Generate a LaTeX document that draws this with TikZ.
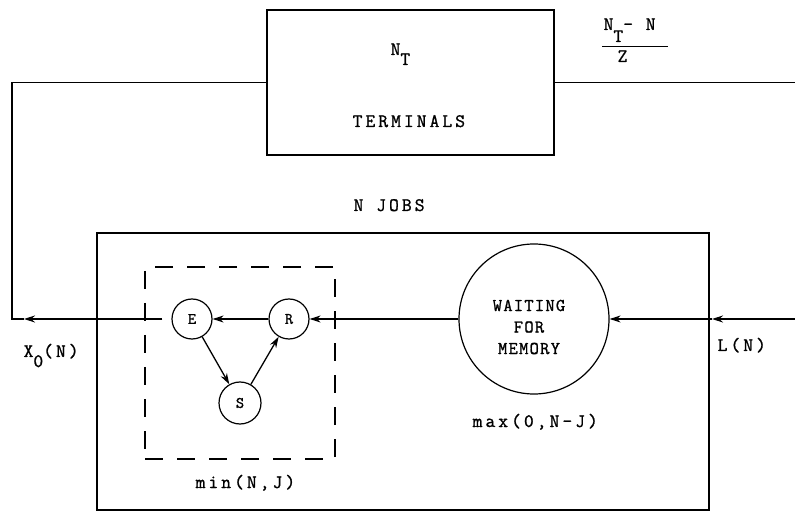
\documentclass[tikz,border=0pt]{standalone}
\usepackage{fontspec}
\usetikzlibrary{arrows.meta}
\newfontfamily\tw[LetterSpace=16,FakeBold=1.2]{Latin Modern Mono}
\newfontfamily\twn[LetterSpace=7,FakeBold=1.2]{Latin Modern Mono}
\newfontfamily\twc[FakeBold=1.2]{Latin Modern Mono}
\begin{document}
\begin{tikzpicture}[x=1pt,y=-1pt,line width=1.3pt,
  txt/.style={font={\tw\fontsize{19}{22}\selectfont},inner sep=0pt},
  wtxt/.style={font={\twn\fontsize{18}{21.5}\selectfont},inner sep=0pt,align=center},
  ctxt/.style={font={\twc\fontsize{16}{18}\selectfont}},
  stn/.style={circle,draw,line width=1.2pt,inner sep=0pt,ctxt},
  arr/.style={-{Stealth[length=11pt,width=7pt]}},
  dbox/.style={draw,line width=1.3pt,dash pattern=on 18pt off 14pt},
  box/.style={draw,line width=1.3pt,inner sep=0pt}]
\useasboundingbox (0,0) rectangle (795,518);

% boxes
\node[box,minimum width=287pt,minimum height=145pt] (term) at (410.5,82.5) {};
\node[box,minimum width=612pt,minimum height=277pt] (jobs) at (403,371.5) {};
\node[dbox,minimum width=190pt,minimum height=192pt] (cpu) at (240,363) {};

% stations
\node[stn,minimum size=40pt] (E) at (192,319) {E};
\node[stn,minimum size=40pt] (R) at (289,319) {R};
\node[stn,minimum size=42pt] (S) at (240,403) {S};
\node[circle,draw,line width=1.2pt,minimum size=150pt,inner sep=0pt] (W) at (534,319) {};
\node[wtxt] (wlab) at (529,327) {WAITING\\FOR\\MEMORY};

% texts
\node[txt,anchor=base west] (nt) at (390,55) {N\raisebox{-10pt}{T}};
\node[txt,anchor=base west] (termlab) at (352,127) {TERMINALS};
\node[txt,anchor=base west] (njobs) at (353,211) {N JOBS};
\node[txt,anchor=base west] (num) at (603,30) {N\raisebox{-12pt}{T}- N};
\node[txt,anchor=base west] (den) at (617,62) {Z};
\coordinate (bl) at (602,47);
\coordinate (br) at (668,47);
\draw[line width=1pt] (bl) -- (br);
\node[txt,anchor=base west] (xo) at (23,357) {X\raisebox{-10pt}{0}(N)};
\node[txt,anchor=base west] (ln) at (717,351) {L(N)};
\node[txt,anchor=base west] (mx) at (472,427) {max(0,N-J)};
\node[txt,anchor=base west] (mn) at (195,488) {min(N,J)};

% connectors
\coordinate (rin) at (795,319);
\coordinate (rj) at (712,319);
\coordinate (lout) at (24,319);
\coordinate (lc) at (12,319);
\coordinate (rout) at (795,82.5);
\draw[arr] (rin) -- (rj);
\draw[arr] (rj) -- (W.west -| W.east);
\draw[arr] (W.west) -- (R.east);
\draw[arr] (R.west) -- (E.east);
\draw[arr] (E) -- (S);
\draw[arr] (S) -- (R);
\draw[arr,shorten <=9pt] (E.west) -- (lout);
\draw (lout) -- (lc) |- (term.west);
\draw (term.east) -- (rout);
\end{tikzpicture}
\end{document}
